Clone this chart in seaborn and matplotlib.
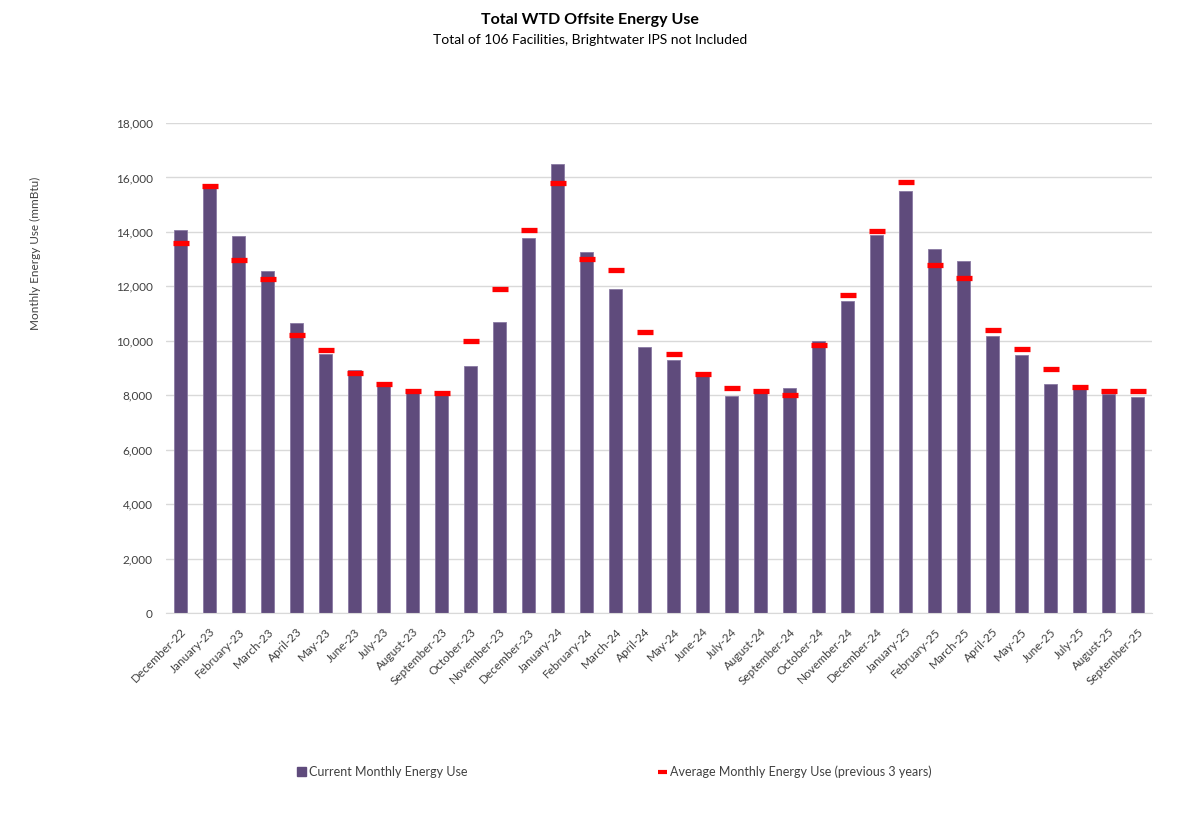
import pandas as pd
import seaborn as sns
import matplotlib.pyplot as plt
from matplotlib.lines import Line2D
from matplotlib.patches import Patch
from matplotlib.ticker import FuncFormatter

# month labels and values (mmBtu)
months = ['December-22', 'January-23', 'February-23', 'March-23', 'April-23', 'May-23',
          'June-23', 'July-23', 'August-23', 'September-23', 'October-23', 'November-23',
          'December-23', 'January-24', 'February-24', 'March-24', 'April-24', 'May-24',
          'June-24', 'July-24', 'August-24', 'September-24', 'October-24', 'November-24',
          'December-24', 'January-25', 'February-25', 'March-25', 'April-25', 'May-25',
          'June-25', 'July-25', 'August-25', 'September-25']
current = [14060, 15630, 13840, 12550, 10660, 9530, 8940, 8360, 8130, 8030, 9090, 10700,
           13780, 16490, 13280, 11920, 9780, 9310, 8760, 7990, 8110, 8250, 10010, 11480,
           13890, 15490, 13370, 12930, 10160, 9490, 8430, 8270, 8060, 7930]
average = [13600, 15670, 12960, 12280, 10210, 9670, 8820, 8400, 8170, 8070, 9980, 11900,
           14070, 15800, 13020, 12590, 10320, 9500, 8790, 8270, 8150, 8010, 9840, 11670,
           14050, 15820, 12780, 12300, 10380, 9690, 8980, 8310, 8170, 8140]

df = pd.DataFrame({'month': months, 'current': current, 'average': average})

sns.set_style('white')
plt.rcParams['font.family'] = ['Lato', 'DejaVu Sans']

bar_color = '#5F4B7C'

fig = plt.figure(figsize=(11.8, 8.33), dpi=100)
ax = fig.add_axes([0.1407, 0.2641, 0.8356, 0.5882])

sns.barplot(data=df, x='month', y='current', color=bar_color, saturation=1,
            width=0.48, edgecolor='#8A7AA3', linewidth=0.6, ax=ax, zorder=2)
sns.pointplot(data=df, x='month', y='average', color='#FF0000', marker='_',
              linestyle='none', markersize=12, markeredgewidth=3.8,
              errorbar=None, ax=ax, zorder=3)

ax.set_ylim(0, 18000)
ax.set_yticks(range(0, 18001, 2000))
ax.yaxis.set_major_formatter(FuncFormatter(lambda v, p: f'{v:,.0f}'))
ax.grid(axis='y', color='#D9D9D9', linewidth=1, zorder=0)
ax.set_axisbelow(True)
sns.despine(ax=ax, left=True, top=True, right=True)
ax.spines['bottom'].set_color('#D9D9D9')
ax.tick_params(left=False, bottom=False, labelsize=8.5, colors='#404040', pad=6)
ax.set_xlim(-0.5, len(months) - 0.5)
plt.setp(ax.get_xticklabels(), rotation=45, ha='right', rotation_mode='anchor')
ax.set_xlabel('')
ax.set_ylabel('')

fig.text(35 / 1180, 1 - 253 / 833, 'Monthly Energy Use (mmBtu)', rotation=90,
         ha='center', va='center', fontsize=8.5, color='#404040')

fig.text(0.5, 1 - 20 / 833, 'Total WTD Offsite Energy Use', ha='center', va='center',
         fontsize=11.5, fontweight='bold', color='black')
fig.text(0.5, 1 - 40 / 833, 'Total of 106 Facilities, Brightwater IPS not Included',
         ha='center', va='center', fontsize=10, color='black')

# two separate legend entries, spread out like the original
bar_handle = Patch(facecolor=bar_color, edgecolor=bar_color, label='Current Monthly Energy Use')
avg_handle = Line2D([0], [0], color='#FF0000', linewidth=3, solid_capstyle='butt',
                    label='Average Monthly Energy Use (previous 3 years)')
leg_kw = dict(loc='center left', frameon=False, fontsize=9, handlelength=0.7,
              handleheight=0.7, handletextpad=0.3, borderpad=0, borderaxespad=0,
              labelcolor='#404040')
fig.legend(handles=[bar_handle], bbox_to_anchor=(297 / 1180, 1 - 772 / 833), **leg_kw)
fig.legend(handles=[avg_handle], bbox_to_anchor=(658 / 1180, 1 - 772 / 833), **leg_kw)

fig.savefig('out.png', dpi=100)
